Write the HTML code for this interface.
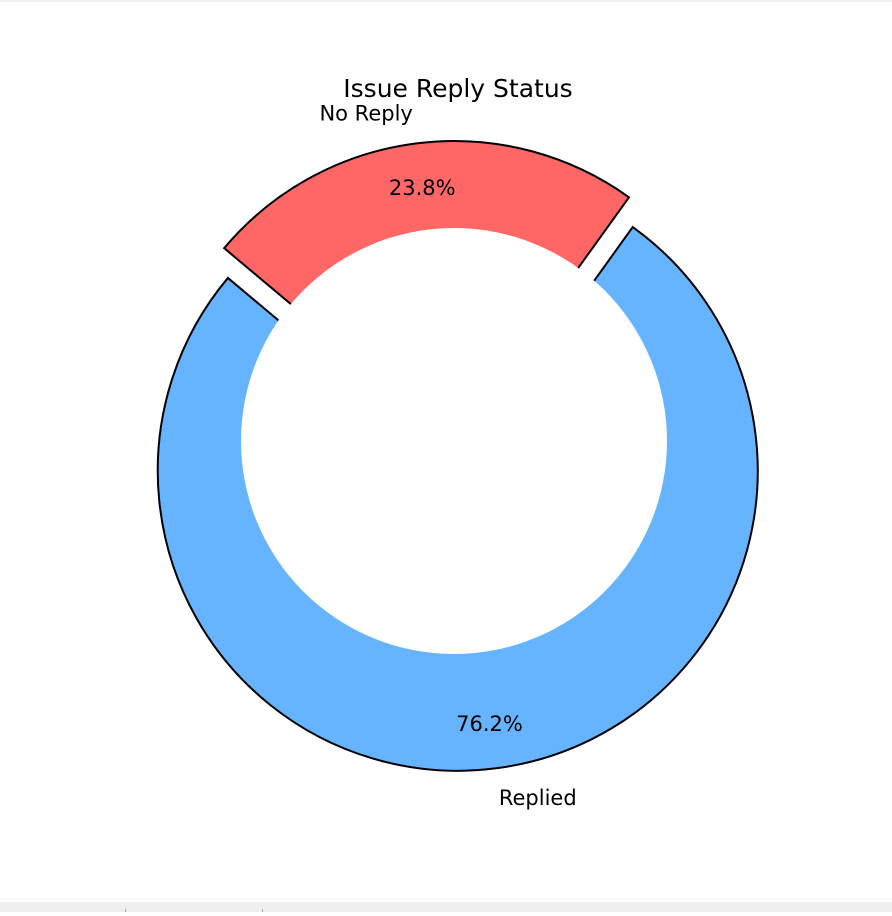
<!DOCTYPE html>
<html><head><meta charset="utf-8"><style>
body{margin:0;width:892px;height:912px;overflow:hidden;background:#fff;font-family:"DejaVu Sans","Liberation Sans",sans-serif}
</style></head><body>
<svg id="chart" width="892" height="912" xmlns="http://www.w3.org/2000/svg" font-family="DejaVu Sans, Liberation Sans, sans-serif">
<rect x="0" y="0" width="892" height="2" fill="#f0f0f0"/>
<rect x="0" y="902" width="892" height="10" fill="#efefef"/>
<line x1="125.5" y1="909" x2="125.5" y2="912" stroke="#aaa"/>
<line x1="262.5" y1="909" x2="262.5" y2="912" stroke="#aaa"/>
<text x="458" y="97" font-size="25" text-anchor="middle" fill="#000">Issue Reply Status</text>
<g id="slices"></g>
</svg>
<script>
const labels = ["Replied", "No Reply"];
const values = [76.2, 23.8];
const explode = [0.1, 0];
const colors = ["#66b3ff", "#ff6666"];
const NS = "http://www.w3.org/2000/svg";
const cx = 454, cy = 441, R = 300, rIn = 213, start = 140;
const g = document.getElementById("slices");
const total = values.reduce((a, b) => a + b, 0);
let a0 = start;
const rad = d => d * Math.PI / 180;
const texts = [];
values.forEach((v, i) => {
  const a1 = a0 + v / total * 360;
  const mid = rad((a0 + a1) / 2);
  const ox = cx + explode[i] * R * Math.cos(mid), oy = cy - explode[i] * R * Math.sin(mid);
  const p = t => [ox + R * Math.cos(rad(t)), oy - R * Math.sin(rad(t))];
  const s = p(a0), e = p(a1);
  const large = (a1 - a0) > 180 ? 1 : 0;
  const path = document.createElementNS(NS, "path");
  path.setAttribute("d", `M${ox},${oy} L${s[0]},${s[1]} A${R},${R} 0 ${large} 0 ${e[0]},${e[1]} Z`);
  path.setAttribute("fill", colors[i]);
  path.setAttribute("stroke", "#000");
  path.setAttribute("stroke-width", "2");
  
  
  g.appendChild(path);
  const pt = document.createElementNS(NS, "text");
  pt.setAttribute("x", ox + 0.85 * R * Math.cos(mid));
  pt.setAttribute("y", oy - 0.85 * R * Math.sin(mid) + 7);
  pt.setAttribute("text-anchor", "middle");
  pt.setAttribute("font-size", "21");
  pt.textContent = v.toFixed(1) + "%";
  
  
  texts.push(pt);
  const lt = document.createElementNS(NS, "text");
  const lx = 1.1 * R * Math.cos(mid);
  lt.setAttribute("x", ox + lx);
  lt.setAttribute("y", oy - 1.1 * R * Math.sin(mid) + 7);
  lt.setAttribute("text-anchor", lx < 0 ? "end" : "start");
  lt.setAttribute("font-size", "21");
  lt.textContent = labels[i];
  
  
  texts.push(lt);
  a0 = a1;
});
const hole = document.createElementNS(NS, "circle");
hole.setAttribute("cx", cx); hole.setAttribute("cy", cy); hole.setAttribute("r", rIn);
hole.setAttribute("fill", "#fff");


g.appendChild(hole);
texts.forEach(t => g.appendChild(t));
</script>
</body></html>
